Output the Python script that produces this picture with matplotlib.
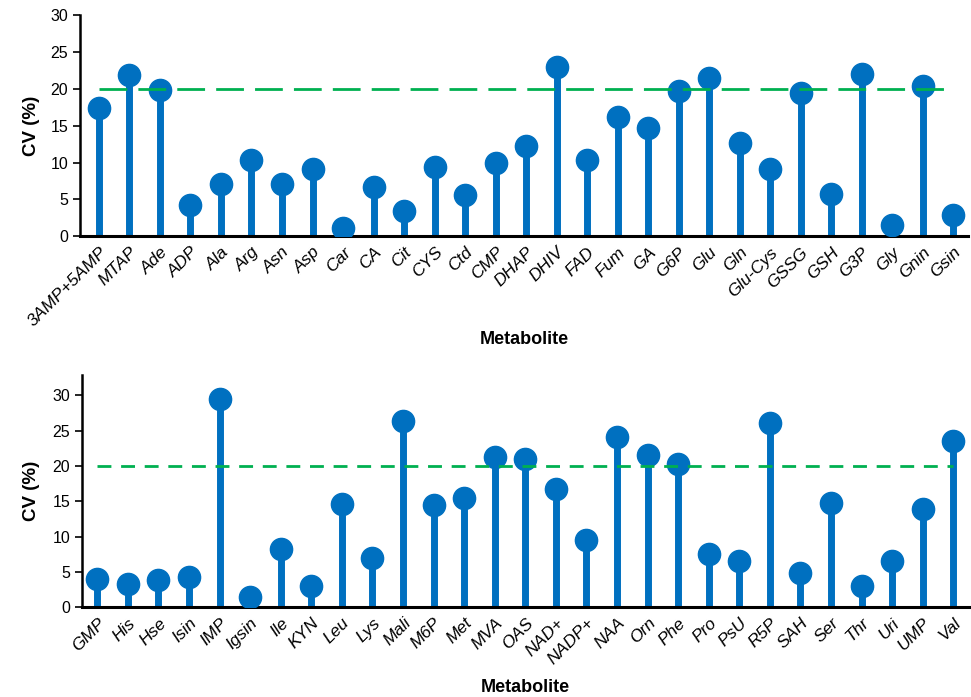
import matplotlib
matplotlib.use("Agg")
import matplotlib.pyplot as plt

plt.rcParams["font.family"] = ["Liberation Sans", "DejaVu Sans"]

# Top panel
top_names = ["3AMP+5AMP", "MTAP", "Ade", "ADP", "Ala", "Arg", "Asn", "Asp", "Car",
             "CA", "Cit", "CYS", "Ctd", "CMP", "DHAP", "DHIV", "FAD", "Fum", "GA",
             "G6P", "Glu", "Gln", "Glu-Cys", "GSSG", "GSH", "G3P", "Gly", "Gnin", "Gsin"]
top_cv = [17.4, 21.9, 19.9, 4.2, 7.1, 10.3, 7.1, 9.1, 1.1,
          6.7, 3.5, 9.4, 5.6, 10.0, 12.3, 23.0, 10.4, 16.2, 14.7,
          19.7, 21.5, 12.7, 9.2, 19.5, 5.7, 22.1, 1.5, 20.4, 2.9]

# Bottom panel
bot_names = ["GMP", "His", "Hse", "Isin", "IMP", "Igsin", "Ile", "KYN", "Leu", "Lys",
             "Mali", "M6P", "Met", "MVA", "OAS", "NAD+", "NADP+", "NAA", "Orn", "Phe",
             "Pro", "PsU", "R5P", "SAH", "Ser", "Thr", "Uri", "UMP", "Val"]
bot_cv = [4.0, 3.3, 3.8, 4.2, 29.5, 1.4, 8.2, 3.0, 14.6, 7.0,
          26.4, 14.4, 15.4, 21.3, 21.0, 16.8, 9.5, 24.1, 21.5, 20.3,
          7.5, 6.6, 26.1, 4.8, 14.7, 3.0, 6.6, 13.9, 23.5]

threshold = 20
blue = "#0070C0"
green = "#00B050"

fig = plt.figure(figsize=(9.71, 6.97), dpi=100)
ax1 = fig.add_axes([0.0824, 0.661, 0.915, 0.317])
ax2 = fig.add_axes([0.0845, 0.129, 0.913, 0.333])


def lollipop(ax, names, vals, ymax, yticks, dashes, xlim):
    x = list(range(len(names)))
    ax.vlines(x, 0, vals, color=blue, linewidth=5, zorder=2)
    ax.plot(x, vals, "o", color=blue, markersize=16, zorder=3)
    ax.plot([x[0], x[-1]], [threshold, threshold], color=green, linewidth=2,
            dashes=dashes, zorder=4)
    ax.set_xlim(*xlim)
    ax.set_ylim(0, ymax)
    ax.set_yticks(yticks)
    ax.set_xticks(x)
    ax.set_xticklabels(names, rotation=45, ha="right", rotation_mode="anchor",
                       fontsize=12.5, style="italic")
    ax.tick_params(axis="x", length=0, pad=6)
    ax.tick_params(axis="y", labelsize=11.5, length=5, width=1.2, direction="out")
    for s in ["top", "right"]:
        ax.spines[s].set_visible(False)
    ax.spines["left"].set_linewidth(1.8)
    ax.spines["bottom"].set_linewidth(2.2)
    ax.set_ylabel("CV (%)", fontsize=13.5, fontweight="bold")
    ax.set_xlabel("Metabolite", fontsize=13, fontweight="bold")


lollipop(ax1, top_names, top_cv, 30, [0, 5, 10, 15, 20, 25, 30], (10, 4), (-0.62, 28.5))
lollipop(ax2, bot_names, bot_cv, 32.9, [0, 5, 10, 15, 20, 25, 30], (5, 3.5), (-0.5, 28.5))
ax1.yaxis.set_label_coords(-0.045, 0.5)
ax2.yaxis.set_label_coords(-0.047, 0.5)
ax1.xaxis.set_label_coords(0.5, -0.43)
ax2.xaxis.set_label_coords(0.5, -0.31)

fig.savefig("out.png", dpi=100)
